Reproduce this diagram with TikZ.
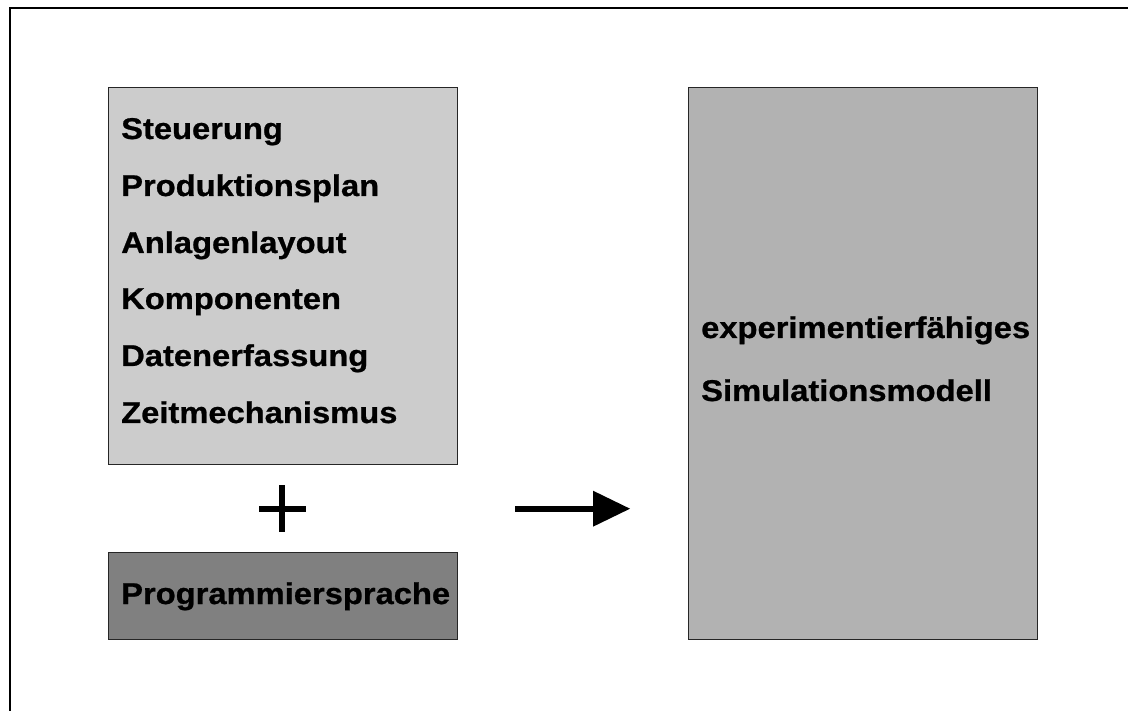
\documentclass[tikz,border=0pt]{standalone}
\usepackage{fontspec}
\usetikzlibrary{calc}
\setmainfont{Liberation Sans}
\newfontfamily\labelfont[FakeStretch=1.09,FakeBold=0.8]{Liberation Sans Bold}
\definecolor{lightbox}{HTML}{CCCCCC}
\definecolor{darkbox}{HTML}{808080}
\definecolor{midbox}{HTML}{B2B2B2}
\definecolor{edge}{HTML}{262626}
\begin{document}
\begin{tikzpicture}[x=1pt,y=-1pt,
  panel/.style={draw=edge,line width=1pt,inner sep=0pt,anchor=north west},
  item/.style={anchor=base west,inner sep=0pt,font=\labelfont\fontsize{30}{32}\selectfont},
  symbolbar/.style={line width=6pt}]
  \useasboundingbox (0,0) rectangle (1128,711);
  % outer frame (only top and left edges fall inside the page)
  \coordinate (frameTop) at (1128,7.7);
  \coordinate (frameCorner) at (10,7.7);
  \coordinate (frameBottom) at (10,711);
  \draw[line width=2.2pt] (frameTop) -- (frameCorner) -- (frameBottom);

  % boxes
  \node[panel,fill=lightbox,minimum width=349pt,minimum height=377pt] (parts) at (108,87) {};
  \node[panel,fill=darkbox,minimum width=349pt,minimum height=87pt] (lang) at (108,552) {};
  \node[panel,fill=midbox,minimum width=349pt,minimum height=552pt] (model) at (688,87) {};

  % list of model components
  \node[item] (t1) at (121,139) {Steuerung};
  \node[item] (t2) at (121,196) {Produktionsplan};
  \node[item] (t3) at (121,253) {Anlagenlayout};
  \node[item] (t4) at (121,309) {Komponenten};
  \node[item] (t5) at (121,366) {Datenerfassung};
  \node[item] (t6) at (121,423) {Zeitmechanismus};

  \node[item] (t7) at (121,604) {Programmiersprache};

  \node[item] (t8) at (701,338) {experimentierfähiges};
  \node[item] (t9) at (701,401) {Simulationsmodell};

  % plus sign
  \coordinate (plusL) at (259,508.5);
  \coordinate (plusR) at (306,508.5);
  \coordinate (plusT) at (282,485);
  \coordinate (plusB) at (282,532);
  \draw[symbolbar] (plusL) -- (plusR);
  \draw[symbolbar] (plusT) -- (plusB);

  % result arrow
  \coordinate (arrStart) at (515,508.7);
  \coordinate (arrBase) at (594,508.7);
  \coordinate (arrTip) at (630,508.7);
  \draw[symbolbar] (arrStart) -- (arrBase);
  \fill ($(arrBase)+(-1,-18)$) -- (arrTip) -- ($(arrBase)+(-1,18)$) -- cycle;
\end{tikzpicture}
\end{document}
